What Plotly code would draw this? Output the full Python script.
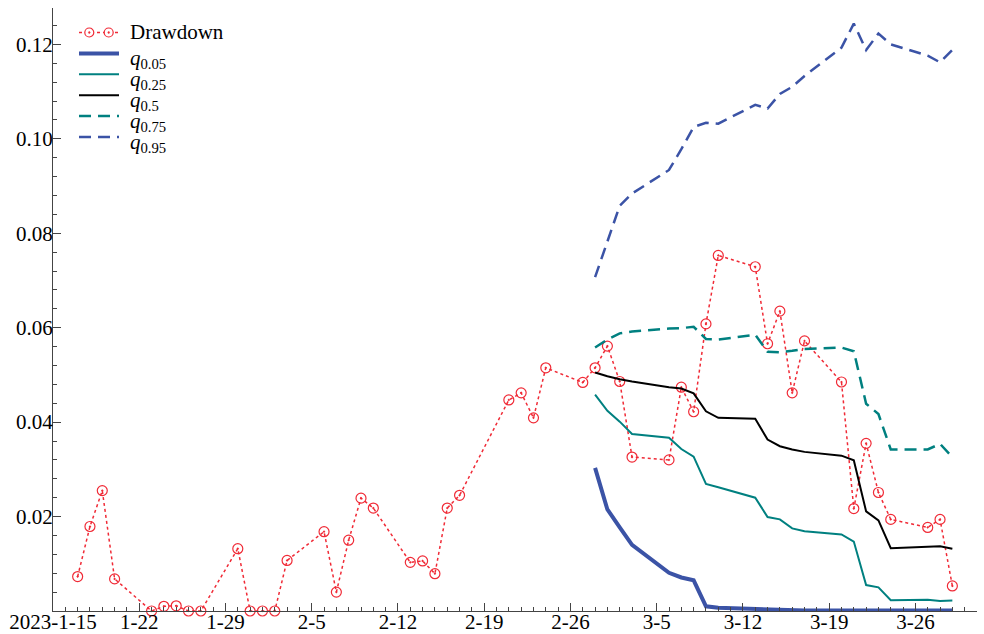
import pandas as pd
import plotly.graph_objects as go

# Daily drawdown observations (trading days)
dd_dates = [
    "2023-01-17", "2023-01-18", "2023-01-19", "2023-01-20",
    "2023-01-23", "2023-01-24", "2023-01-25", "2023-01-26", "2023-01-27",
    "2023-01-30", "2023-01-31", "2023-02-01", "2023-02-02", "2023-02-03",
    "2023-02-06", "2023-02-07", "2023-02-08", "2023-02-09", "2023-02-10",
    "2023-02-13", "2023-02-14", "2023-02-15", "2023-02-16", "2023-02-17",
    "2023-02-21", "2023-02-22", "2023-02-23", "2023-02-24",
    "2023-02-27", "2023-02-28", "2023-03-01", "2023-03-02", "2023-03-03",
    "2023-03-06", "2023-03-07", "2023-03-08", "2023-03-09", "2023-03-10",
    "2023-03-13", "2023-03-14", "2023-03-15", "2023-03-16", "2023-03-17",
    "2023-03-20", "2023-03-21", "2023-03-22", "2023-03-23", "2023-03-24",
    "2023-03-27", "2023-03-28", "2023-03-29",
]
dd_values = [
    0.0073, 0.0179, 0.0255, 0.0068,
    0.0, 0.0010, 0.0011, 0.0, 0.0,
    0.0132, 0.0, 0.0, 0.0, 0.0107,
    0.0168, 0.0040, 0.0150, 0.0239, 0.0218,
    0.0103, 0.0106, 0.0079, 0.0218, 0.0245,
    0.0447, 0.0462, 0.0409, 0.0515,
    0.0484, 0.0515, 0.0561, 0.0486, 0.0326,
    0.0320, 0.0474, 0.0422, 0.0608, 0.0753,
    0.0729, 0.0566, 0.0635, 0.0462, 0.0572,
    0.0485, 0.0217, 0.0355, 0.0251, 0.0194,
    0.0177, 0.0194, 0.0053,
]

# Quantile bands from 2023-02-28 onward
q_dates = [
    "2023-02-28", "2023-03-01", "2023-03-02", "2023-03-03",
    "2023-03-06", "2023-03-07", "2023-03-08", "2023-03-09", "2023-03-10",
    "2023-03-13", "2023-03-14", "2023-03-15", "2023-03-16", "2023-03-17",
    "2023-03-20", "2023-03-21", "2023-03-22", "2023-03-23", "2023-03-24",
    "2023-03-27", "2023-03-28", "2023-03-29",
]
q05 = [0.0303, 0.0215, 0.0177, 0.0140, 0.0081, 0.0071, 0.0065, 0.0010, 0.0007,
       0.0004, 0.0003, 0.0002, 0.0002, 0.0001, 0.0001, 0.0001, 0.0001, 0.0001,
       0.0001, 0.0001, 0.0001, 0.0001]
q25 = [0.0458, 0.0424, 0.0401, 0.0375, 0.0367, 0.0343, 0.0327, 0.0269, 0.0262,
       0.0240, 0.0199, 0.0194, 0.0175, 0.0169, 0.0162, 0.0147, 0.0055, 0.0050,
       0.0023, 0.0024, 0.0021, 0.0022]
q50 = [0.0505, 0.0497, 0.0491, 0.0486, 0.0474, 0.0471, 0.0461, 0.0423, 0.0409,
       0.0407, 0.0363, 0.0349, 0.0342, 0.0337, 0.0329, 0.0319, 0.0211, 0.0192,
       0.0133, 0.0137, 0.0137, 0.0132]
q75 = [0.0558, 0.0575, 0.0588, 0.0592, 0.0598, 0.0599, 0.0602, 0.0576, 0.0575,
       0.0585, 0.0549, 0.0548, 0.0551, 0.0555, 0.0558, 0.0550, 0.0439, 0.0417,
       0.0342, 0.0342, 0.0354, 0.0326]
q95 = [0.0707, 0.0784, 0.0858, 0.0884, 0.0934, 0.0978, 0.1025, 0.1034, 0.1032,
       0.1072, 0.1064, 0.1095, 0.1110, 0.1133, 0.1193, 0.1244, 0.1188, 0.1223,
       0.1200, 0.1176, 0.1162, 0.1188]

x_tickvals = ["2023-01-15", "2023-01-22", "2023-01-29", "2023-02-05", "2023-02-12",
              "2023-02-19", "2023-02-26", "2023-03-05", "2023-03-12", "2023-03-19",
              "2023-03-26"]
x_ticktext = ["2023-1-15", "1-22", "1-29", "2-5", "2-12", "2-19", "2-26",
              "3-5", "3-12", "3-19", "3-26"]
y_tickvals = [0.02, 0.04, 0.06, 0.08, 0.10, 0.12]
y_ticktext = ["0.02", "0.04", "0.06", "0.08", "0.10", "0.12"]

BLUE = "#3b53a6"
TEAL = "#008080"
RED = "#f02a36"
AXIS_COLOR = "#444444"
FONT = "Liberation Serif"
FS = 21
DASH = "12px,7px"

# figure geometry in pixels
W, H = 984, 634
ML, MR, MT, MB = 53, 7, 8, 23
PW, PH = W - ML - MR, H - MT - MB


def px_x(px):
    return (px - ML) / PW


def px_y(py):
    return (H - MB - py) / PH


fig = go.Figure()
fig.add_trace(go.Scatter(
    x=dd_dates, y=dd_values, name="Drawdown", mode="lines+markers",
    line=dict(color=RED, width=1.5, dash="dot"),
    marker=dict(symbol="circle-open-dot", size=10, color=RED, line=dict(width=1.2)),
    cliponaxis=False,
))

quantiles = [
    ("0.05", q05, dict(color=BLUE, width=4)),
    ("0.25", q25, dict(color=TEAL, width=2)),
    ("0.5", q50, dict(color="black", width=2)),
    ("0.75", q75, dict(color=TEAL, width=2.5, dash=DASH)),
    ("0.95", q95, dict(color=BLUE, width=2.5, dash=DASH)),
]
for lvl, vals, style in quantiles:
    fig.add_trace(go.Scatter(
        x=q_dates, y=vals, name=f"<i>q</i><sub>{lvl}</sub>", mode="lines",
        line=style,
    ))

# legend block in the upper-left corner
shapes = []
annotations = []
row0, row_step = 32.5, 20.9
lx0, lx1, tx = 79, 119, 128

# Drawdown entry: dotted line with two circle markers
shapes.append(dict(type="line", xref="paper", yref="paper",
                   x0=px_x(lx0), x1=px_x(lx1), y0=px_y(row0), y1=px_y(row0),
                   line=dict(color=RED, width=1.5, dash="dot")))
for cx in (89.3, 108.7):
    shapes.append(dict(type="circle", xref="paper", yref="paper",
                       xsizemode="pixel", ysizemode="pixel",
                       xanchor=px_x(cx), yanchor=px_y(row0),
                       x0=-4.5, x1=4.5, y0=-4.5, y1=4.5,
                       fillcolor="white", line=dict(color=RED, width=1.2)))
    shapes.append(dict(type="circle", xref="paper", yref="paper",
                       xsizemode="pixel", ysizemode="pixel",
                       xanchor=px_x(cx), yanchor=px_y(row0),
                       x0=-0.9, x1=0.9, y0=-0.9, y1=0.9,
                       fillcolor=RED, line=dict(color=RED, width=0.5)))
annotations.append(dict(xref="paper", yref="paper", x=px_x(tx), y=px_y(row0),
                        xanchor="left", yanchor="middle", showarrow=False,
                        text="Drawdown", font=dict(family=FONT, size=FS, color="black")))

for i, (lvl, _, style) in enumerate(quantiles, start=1):
    ry = row0 + i * row_step
    shapes.append(dict(type="line", xref="paper", yref="paper",
                       x0=px_x(lx0), x1=px_x(lx1), y0=px_y(ry), y1=px_y(ry),
                       line=style))
    annotations.append(dict(xref="paper", yref="paper", x=px_x(tx), y=px_y(ry),
                            xanchor="left", yanchor="middle", showarrow=False,
                            yshift=-6,
                            text=f"<i>q</i><sub>{lvl}</sub>",
                            font=dict(family=FONT, size=FS, color="black")))

day_ticks = [d.strftime("%Y-%m-%d") for d in pd.date_range("2023-01-15", "2023-03-31", freq="D")]
minor_y = [round(0.004 * k, 3) for k in range(0, 32)]

fig.update_layout(
    width=W, height=H,
    margin=dict(l=ML, r=MR, t=MT, b=MB),
    paper_bgcolor="white", plot_bgcolor="white",
    font=dict(family=FONT, size=FS, color="black"),
    showlegend=False,
    shapes=shapes,
    annotations=annotations,
    xaxis=dict(
        type="date", automargin=False,
        range=["2023-01-15", "2023-03-31"],
        tickmode="array", tickvals=x_tickvals, ticktext=x_ticktext,
        ticks="inside", ticklen=8, tickwidth=1, tickcolor=AXIS_COLOR,
        showline=True, linecolor=AXIS_COLOR, linewidth=1.2,
        showgrid=False, zeroline=False,
        ticklabelstandoff=-8,
        tickfont=dict(family=FONT, size=FS, color="black"),
        minor=dict(tickmode="array", tickvals=day_ticks,
                   ticks="inside", ticklen=4, tickwidth=1, tickcolor=AXIS_COLOR,
                   showgrid=False),
    ),
    yaxis=dict(
        automargin=False,
        range=[0, 0.1277],
        tickmode="array", tickvals=y_tickvals, ticktext=y_ticktext,
        ticks="inside", ticklen=8, tickwidth=1, tickcolor=AXIS_COLOR,
        showline=True, linecolor=AXIS_COLOR, linewidth=1.2,
        showgrid=False, zeroline=False,
        ticklabelstandoff=-5,
        tickfont=dict(family=FONT, size=FS, color="black"),
        minor=dict(tickmode="array", tickvals=minor_y,
                   ticks="inside", ticklen=4, tickwidth=1, tickcolor=AXIS_COLOR,
                   showgrid=False),
    ),
)

fig.write_html("out.html")
